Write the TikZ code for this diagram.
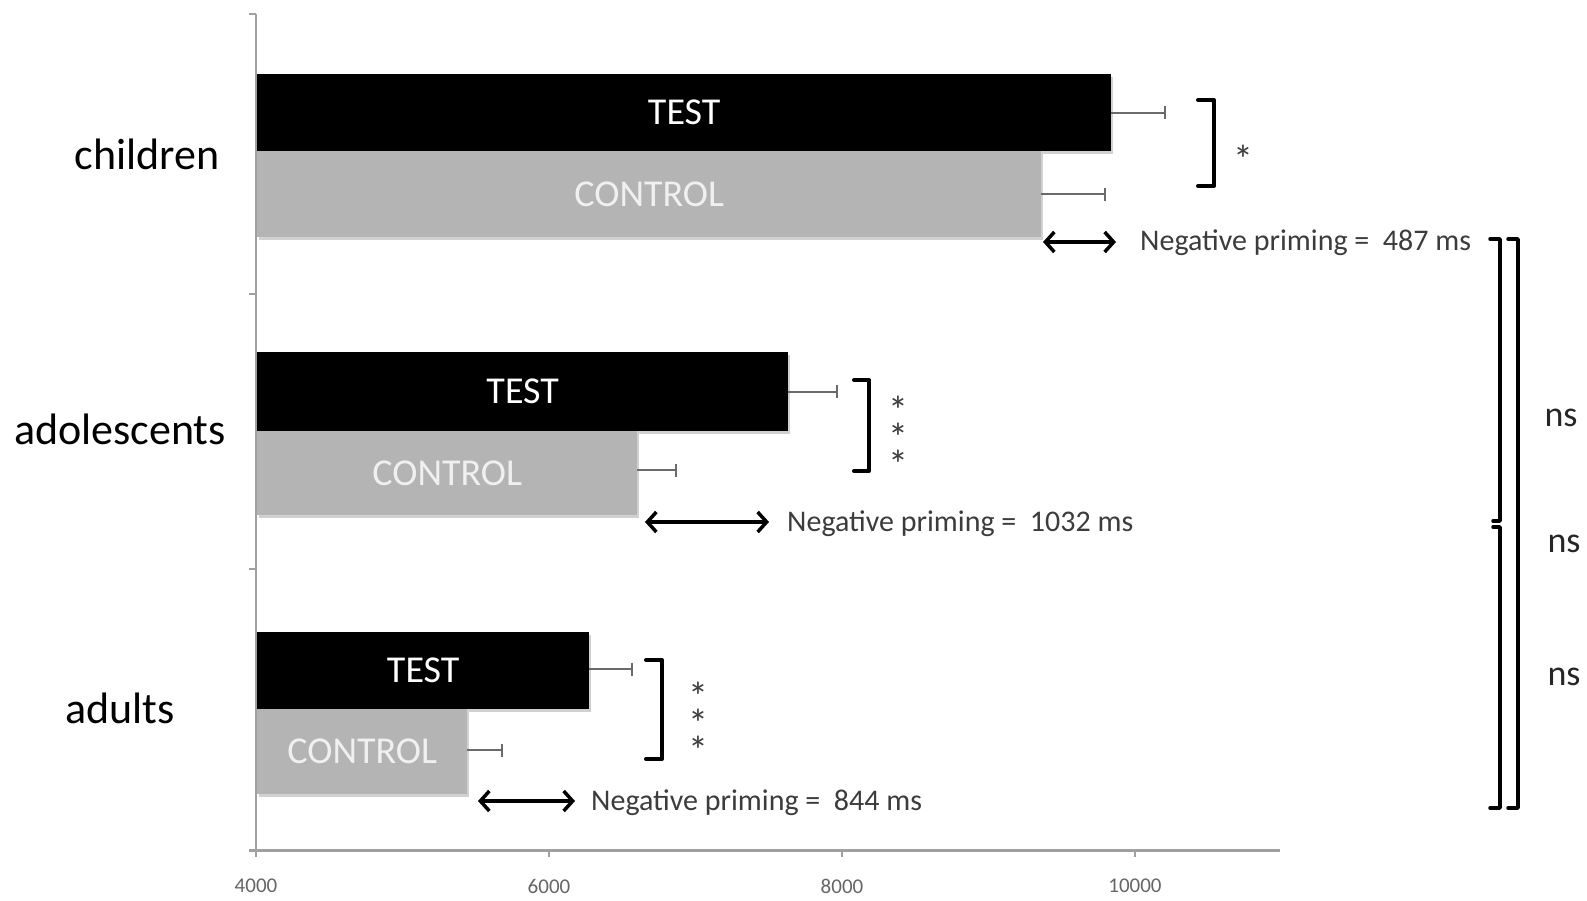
\documentclass[tikz,border=0pt]{standalone}
\usepackage{fontspec}
\setmainfont{Carlito}
\usetikzlibrary{arrows.meta,shadows}
\definecolor{ctrlgray}{HTML}{B4B4B4}
\definecolor{axisgray}{HTML}{A0A0A0}
\definecolor{errgray}{HTML}{6A6A6A}
\definecolor{txtgray}{HTML}{3C3C3C}
\newcommand\mystarfont{\fontsize{40}{27}\selectfont\lineskiplimit=-100pt\relax\lineskip=0pt\relax}
\tikzset{
  barshadow/.style={drop shadow={shadow xshift=2pt, shadow yshift=-3pt, opacity=0.18, fill=black}},
  testbar/.style={rectangle, inner sep=0pt, anchor=west, fill=black, text=white, font=\fontsize{38}{40}\selectfont, barshadow},
  ctrlbar/.style={rectangle, inner sep=0pt, anchor=west, fill=ctrlgray, text=white!94!black, font=\fontsize{38}{40}\selectfont, barshadow},
  grouplab/.style={font=\fontsize{44}{48}\selectfont, text=black},
  errbar/.style={draw=errgray, line width=2pt, -{Bar[width=13pt,line width=2pt]}},
  brk/.style={draw=black, line width=4pt, line join=round, line cap=round},
  npri/.style={<->, >={Straight Barb[length=9pt,width=20pt,line width=3.5pt]}, line width=3.5pt, black},
  nptext/.style={anchor=west, text=txtgray, font=\fontsize{30}{32}\selectfont, inner sep=0pt},
  star/.style={text=txtgray, font=\mystarfont, inner sep=0pt, align=center},
  nslab/.style={text=black!85, font=\fontsize{36}{38}\selectfont, inner sep=0pt},
  ticklab/.style={text=black!60, font=\fontsize{21}{22}\selectfont, inner sep=0pt},
  axisline/.style={draw=axisgray, line width=3pt},
}
\begin{document}
\begin{tikzpicture}[x=1pt,y=-1pt]
\useasboundingbox[fill=white] (0,0) rectangle (1587,900);
% axes
\draw[axisline, line width=2pt] (256,14) -- (256,850);
\foreach \yy in {14,294,569} \draw[axisline, line width=2pt] (256,\yy) -- (249,\yy);
\draw[axisline] (249,850) -- (1280,850);
\foreach \xx/\lab in {256/4000,549/6000,842/8000,1135/10000} {
  \draw[axisline, line width=2pt] (\xx,850) -- (\xx,857);
  \node[ticklab] (t\lab) at (\xx,886) {\lab};
}
% group labels
\node[grouplab] (gch) at (147,154) {children};
\node[grouplab] (gad) at (120,429) {adolescents};
\node[grouplab] (gau) at (120,708) {adults};
% children
\node[testbar, minimum width=854, minimum height=77] (cT) at (257,112.5) {TEST};
\node[ctrlbar, minimum width=784, minimum height=86] (cC) at (257,194) {CONTROL};
\coordinate (cTe) at (1166,112.5);
\coordinate (cCe) at (1106,194);
\draw[errbar] (cT.east) -- (cTe);
\draw[errbar] (cC.east) -- (cCe);
\draw[brk] (1198,100) -- (1214,100) -- (1214,186) -- (1198,186);
\node[star] (cs) at (1243,159) {*};
\coordinate (cA1) at (1043,242);
\coordinate (cA2) at (1116,242);
\draw[npri] (cA1) -- (cA2);
\node[nptext] (cN) at (1140,243) {Negative priming =\ \ 487 ms};
% adolescents
\node[testbar, minimum width=531, minimum height=79] (aT) at (257,391.5) {TEST};
\node[ctrlbar, minimum width=380, minimum height=84] (aC) at (257,473) {CONTROL};
\coordinate (aTe) at (838,391.5);
\coordinate (aCe) at (677,470);
\draw[errbar] (aT.east) -- (aTe);
\draw[errbar] (aC.east |- aCe) -- (aCe);
\draw[brk] (854,380) -- (869,380) -- (869,471) -- (854,471);
\node[star] (as) at (898,437) {*\\*\\*};
\coordinate (aA1) at (645,522);
\coordinate (aA2) at (769,522);
\draw[npri] (aA1) -- (aA2);
\node[nptext] (aN) at (787,524) {Negative priming =\ \ 1032 ms};
% adults
\node[testbar, minimum width=332, minimum height=77] (uT) at (257,670.5) {TEST};
\node[ctrlbar, minimum width=210, minimum height=85] (uC) at (257,751.5) {CONTROL};
\coordinate (uTe) at (633,669);
\coordinate (uCe) at (503,750);
\draw[errbar] (uT.east |- uTe) -- (uTe);
\draw[errbar] (uC.east |- uCe) -- (uCe);
\draw[brk] (646,660) -- (662,660) -- (662,759) -- (646,759);
\node[star] (us) at (698,723) {*\\*\\*};
\coordinate (uA1) at (478,801);
\coordinate (uA2) at (575,801);
\draw[npri] (uA1) -- (uA2);
\node[nptext] (uN) at (591,803) {Negative priming =\ \ 844 ms};
% right brackets
\draw[brk, line width=3.5pt] (1490,239) -- (1500,239) -- (1500,521) -- (1493,521);
\draw[brk, line width=3.5pt] (1493,527) -- (1500,527) -- (1500,808) -- (1490,808);
\draw[brk, line width=3.5pt] (1508,239) -- (1518,239) -- (1518,808) -- (1508,808);
\node[nslab] (ns1) at (1561,418) {ns};
\node[nslab] (ns2) at (1564,544) {ns};
\node[nslab] (ns3) at (1564,677) {ns};
\end{tikzpicture}
\end{document}
